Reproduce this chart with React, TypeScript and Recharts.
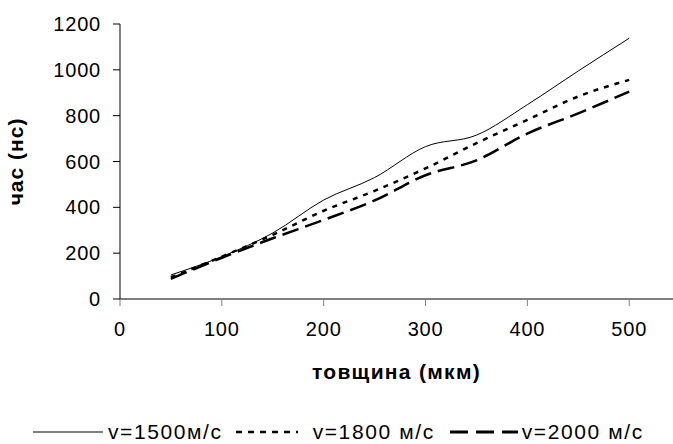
import React from 'react';
import { LineChart, Line, XAxis, YAxis, Legend } from 'recharts';

const thickness = [50, 100, 150, 200, 250, 300, 350, 400, 450, 500];
const v1500 = [105, 185, 288, 432, 530, 665, 715, 848, 995, 1138];
const v1800 = [95, 185, 280, 385, 472, 570, 680, 782, 884, 956];
const v2000 = [88, 180, 265, 345, 430, 540, 605, 722, 810, 905];
const xTicks = [0, 100, 200, 300, 400, 500];
const yTicks = [0, 200, 400, 600, 800, 1000, 1200];

const data = thickness.map((t, i) => ({
  t,
  a: v1500[i],
  b: v1800[i],
  c: v2000[i],
}));

const FONT = '"Liberation Sans", Arial, sans-serif';

const legendItems = [
  { label: 'v=1500м/с', dash: undefined, width: 1, sample: 70, before: 33, gap: 5 },
  { label: 'v=1800 м/с', dash: '6 6', width: 2.5, sample: 62, before: 13, gap: 15 },
  { label: 'v=2000 м/с', dash: '18 8', width: 3, sample: 68, before: 15, gap: 4 },
];

const renderLegend = () => (
  <div style={{ display: 'flex', alignItems: 'center', fontFamily: FONT, fontSize: 21, letterSpacing: 1.6, color: '#000' }}>
    {legendItems.map((it) => (
      <div key={it.label} style={{ display: 'flex', alignItems: 'center', marginLeft: it.before }}>
        <svg width={it.sample} height={10} style={{ marginRight: it.gap }}>
          <line x1={0} y1={5} x2={it.sample} y2={5} stroke="#000" strokeWidth={it.width} strokeDasharray={it.dash} />
        </svg>
        <span>{it.label}</span>
      </div>
    ))}
  </div>
);

export default function App() {
  return (
    <div style={{ position: 'absolute', left: 0, top: 0, background: '#fff' }}>
      <LineChart
        width={673}
        height={444}
        data={data}
        margin={{ top: 24, right: 0, left: 0, bottom: 0 }}
      >
        <XAxis
          dataKey="t"
          type="number"
          domain={[0, 543]}
          ticks={xTicks}
          interval={0}
          height={90}
          tickSize={7}
          tickMargin={16}
          axisLine={{ stroke: '#000' }}
          tickLine={{ stroke: '#808080' }}
          tick={{ fill: '#000', fontSize: 20, fontFamily: FONT, letterSpacing: 0.8 }}
          label={{ value: 'товщина (мкм)', position: 'insideBottom', offset: 10, fill: '#000', fontSize: 21, fontWeight: 'bold', fontFamily: FONT, letterSpacing: 1.3 }}
        />
        <YAxis
          type="number"
          domain={[0, 1200]}
          ticks={yTicks}
          interval={0}
          width={120}
          tickSize={7}
          tickMargin={12}
          axisLine={{ stroke: '#000' }}
          tickLine={{ stroke: '#000' }}
          tick={{ fill: '#000', fontSize: 20, fontFamily: FONT, letterSpacing: 0.8 }}
          label={{ value: 'час (нс)', angle: -90, position: 'insideLeft', offset: 16, fill: '#000', fontSize: 21, fontWeight: 'bold', fontFamily: FONT, letterSpacing: 1, style: { textAnchor: 'middle' } }}
        />
        <Legend verticalAlign="bottom" height={55} content={renderLegend} wrapperStyle={{ left: 0, top: 420 }} />
        <Line type="monotone" dataKey="a" stroke="#000" strokeWidth={1} dot={false} isAnimationActive={false} />
        <Line type="monotone" dataKey="b" stroke="#000" strokeWidth={2.5} strokeDasharray="5 6" dot={false} isAnimationActive={false} />
        <Line type="monotone" dataKey="c" stroke="#000" strokeWidth={2.5} strokeDasharray="17 7" dot={false} isAnimationActive={false} />
      </LineChart>
    </div>
  );
}
